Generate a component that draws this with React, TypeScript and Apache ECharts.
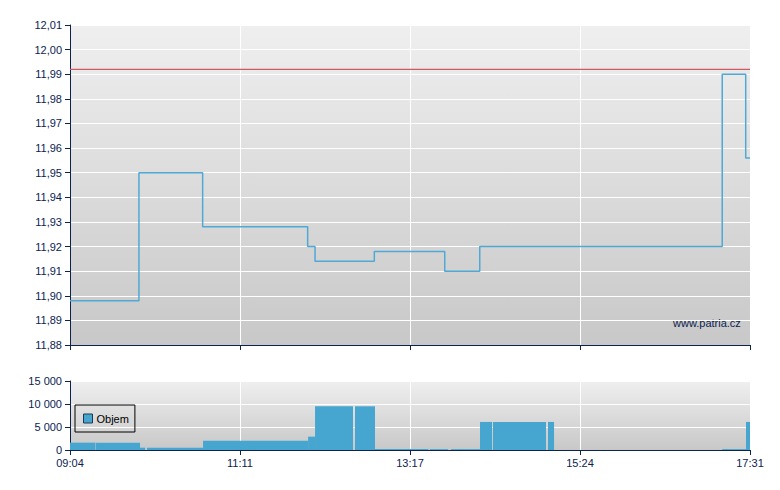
import React, { useEffect, useRef } from 'react';
import * as echarts from 'echarts';

const timeLabels = ['09:04', '11:11', '13:17', '15:24', '17:31'];
const priceTimes = [0, 51.4, 98.9, 177.2, 182.7, 226.9, 279.4, 305.5, 486.3, 503.8, 507];
const priceValues = [11.898, 11.95, 11.928, 11.92, 11.914, 11.918, 11.91, 11.92, 11.99, 11.956, 11.956];
const prevClose = 11.992;
const prevCloseTimes = [0, 507];

const volStart = [0, 19.4, 52.2, 57.4, 99.2, 177.5, 182.7, 212.5, 227.4, 268.4, 271.4, 284.1, 287.9, 305.7, 315.4, 356.4, 486.3, 504];
const volEnd = [19, 52.2, 56, 99.2, 177.5, 182.7, 211, 227.4, 267.2, 271.4, 281.9, 287.9, 305.7, 314.7, 354.9, 360.9, 504, 507];
const volValues = [1600, 1600, 500, 500, 2000, 2900, 9500, 9500, 200, 200, 200, 200, 200, 6100, 6100, 6100, 200, 6100];

const NAVY = '#0c2350';
const FONT = "'Liberation Sans', Arial, sans-serif";

export default function App() {
  const ref = useRef<HTMLDivElement>(null);
  useEffect(() => {
    if (!ref.current) return;
    const chart = echarts.init(ref.current, undefined, { renderer: 'svg' });
    const bg = () =>
      new echarts.graphic.LinearGradient(0, 0, 0, 1, [
        { offset: 0, color: '#efefef' },
        { offset: 1, color: '#c8c8c8' },
      ]);
    const xCommon = {
      type: 'value' as const,
      min: 0,
      max: 507,
      interval: 126.75,
      axisLine: { show: true, lineStyle: { color: NAVY, width: 1 } },
      axisTick: { show: true, length: 5, lineStyle: { color: NAVY } },
      splitLine: { show: true, lineStyle: { color: '#ffffff', width: 1 } },
    };
    const priceData = priceTimes.map((t, i) => [t, priceValues[i]]);
    const prevData = prevCloseTimes.map((t) => [t, prevClose]);
    const volData = volStart.map((s, i) => [s, volEnd[i], volValues[i]]);
    chart.setOption({
      animation: false,
      textStyle: { fontFamily: FONT },
      grid: [
        { left: 70, top: 25, width: 680, height: 320, show: true, backgroundColor: bg(), borderWidth: 0 },
        { left: 70, top: 381, width: 680, height: 69, show: true, backgroundColor: bg(), borderWidth: 0 },
      ],
      xAxis: [
        { ...xCommon, gridIndex: 0, axisLabel: { show: false } },
        {
          ...xCommon,
          gridIndex: 1,
          axisLabel: {
            show: true,
            color: NAVY,
            fontSize: 11,
            fontFamily: FONT,
            margin: 7,
            formatter: (v: number) => timeLabels[Math.round(v / 126.75)] ?? '',
          },
        },
      ],
      yAxis: [
        {
          type: 'value',
          gridIndex: 0,
          min: 11.88,
          max: 12.01,
          interval: 0.01,
          axisLine: { show: true, lineStyle: { color: NAVY } },
          axisTick: { show: true, length: 5, lineStyle: { color: NAVY } },
          splitLine: { show: true, lineStyle: { color: '#ffffff' } },
          axisLabel: {
            color: NAVY,
            fontSize: 11,
            fontFamily: FONT,
            margin: 8,
            formatter: (v: number) => v.toFixed(2).replace('.', ','),
          },
        },
        {
          type: 'value',
          gridIndex: 1,
          min: 0,
          max: 15000,
          interval: 5000,
          axisLine: { show: true, lineStyle: { color: NAVY } },
          axisTick: { show: true, length: 5, lineStyle: { color: NAVY } },
          splitLine: { show: true, lineStyle: { color: '#ffffff' } },
          axisLabel: {
            color: NAVY,
            fontSize: 11,
            fontFamily: FONT,
            margin: 8,
            formatter: (v: number) => String(Math.round(v)).replace(/\B(?=(\d{3})+(?!\d))/g, ' '),
          },
        },
      ],
      legend: {
        data: [{ name: 'Objem', icon: 'rect' }],
        left: 75,
        top: 405,
        orient: 'vertical',
        padding: [8, 6, 8, 8],
        itemWidth: 9,
        itemHeight: 9,
        itemGap: 5,
        borderColor: '#000000',
        borderWidth: 1,
        backgroundColor: 'transparent',
        textStyle: { color: '#000000', fontSize: 11, fontFamily: FONT, padding: [0, 0, 0, -1] },
        itemStyle: { borderColor: '#1c3a55', borderWidth: 1 },
        selectedMode: false,
      },
      graphic: [
        {
          type: 'text',
          left: 673,
          top: 317,
          style: { text: 'www.patria.cz', fill: NAVY, fontSize: 11, fontFamily: FONT },
          silent: true,
        },
      ],
      series: [
        {
          type: 'line',
          name: 'Předchozí závěr',
          xAxisIndex: 0,
          yAxisIndex: 0,
          data: prevData,
          showSymbol: false,
          symbol: 'none',
          silent: true,
          lineStyle: { color: '#cf5a64', width: 1.2 },
          itemStyle: { color: '#cf5a64' },
        },
        {
          type: 'line',
          name: 'Cena',
          xAxisIndex: 0,
          yAxisIndex: 0,
          step: 'end',
          data: priceData,
          showSymbol: false,
          symbol: 'none',
          lineStyle: { color: '#4fa9d4', width: 1.5 },
          itemStyle: { color: '#4fa9d4' },
        },
        {
          type: 'custom',
          name: 'Objem',
          xAxisIndex: 1,
          yAxisIndex: 1,
          data: volData,
          encode: { x: [0, 1], y: 2 },
          itemStyle: { color: '#46a6cf' },
          renderItem: (params: any, api: any) => {
            const s = api.coord([api.value(0), api.value(2)]);
            const e = api.coord([api.value(1), 0]);
            return {
              type: 'rect',
              shape: { x: s[0], y: s[1], width: Math.max(e[0] - s[0], 1), height: e[1] - s[1] },
              style: { fill: '#46a6cf' },
            };
          },
        },
      ],
    });
    return () => chart.dispose();
  }, []);
  return (
    <div
      ref={ref}
      style={{ position: 'absolute', left: 0, top: 0, width: 780, height: 490, background: '#ffffff' }}
    />
  );
}
